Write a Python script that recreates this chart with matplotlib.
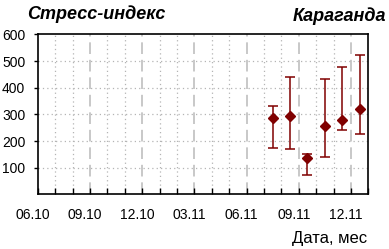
import numpy as np
import matplotlib
matplotlib.use("Agg")
import matplotlib.pyplot as plt
import matplotlib.transforms as mtransforms

plt.rcParams['font.family'] = ['Liberation Sans', 'DejaVu Sans']

# data: month of measurement (mm.yy), mean stress index and its range
months = ["07.11", "08.11", "09.11", "10.11", "11.11", "12.11"]
mean_val = np.array([287, 294, 137, 257, 278, 321])
low_val = np.array([174, 170, 74, 141, 242, 226])
high_val = np.array([330, 441, 150, 433, 478, 523])

tick_labels = ["06.10", "09.10", "12.10", "03.11", "06.11", "09.11", "12.11"]


def month_index(s):
    # months counted from 06.10
    m, y = s.split(".")
    return (int(y) - 10) * 12 + int(m) - 6


x = np.array([month_index(m) for m in months]) + 0.5

fig = plt.figure(figsize=(3.89, 2.49), dpi=100)
ax = fig.add_axes([0.097, 0.219, 0.85, 0.643])

# grid: dotted monthly, dashed quarterly
for i in range(1, 19):
    if i % 3 == 0:
        ax.axvline(i, color='#c8c8c8', lw=1.4, ls=(0, (6, 3)), zorder=0)
    else:
        ax.axvline(i, color='#b4b4b4', lw=0.9, ls=(0, (1, 2.5)), zorder=0)
for v in range(100, 600, 100):
    ax.axhline(v, color='#b4b4b4', lw=0.9, ls=(0, (1, 2.5)), zorder=0)

ax.errorbar(x, mean_val, yerr=[mean_val - low_val, high_val - mean_val],
            fmt='D', color='#800000', ms=5.5, elinewidth=1.1, capsize=3.5,
            capthick=1.1, zorder=3)

ax.set_xlim(0, 19)
ax.set_ylim(0, 600)
ax.set_yticks(range(100, 700, 100))
ax.set_xticks(range(0, 19, 3))
ax.set_xticklabels(tick_labels)
ax.set_xticks(range(0, 20), minor=True)

ax.tick_params(axis='x', which='both', direction='in', length=4, width=1,
               pad=10, labelsize=10)
ax.tick_params(axis='y', direction='out', length=3, width=1, pad=6,
               labelsize=10)

offset = mtransforms.ScaledTranslation(-5 / 100, 0, fig.dpi_scale_trans)
for lbl in ax.get_xticklabels():
    lbl.set_transform(lbl.get_transform() + offset)

for sp in ax.spines.values():
    sp.set_linewidth(1.2)

fig.text(27 / 389, 1 - 19 / 249, "Стресс-индекс", fontsize=13,
         fontweight='bold', fontstyle='italic', ha='left', va='baseline')
fig.text(386 / 389, 1 - 21 / 249, "Караганда", fontsize=13,
         fontweight='bold', fontstyle='italic', ha='right', va='baseline')
fig.text(367 / 389, 1 - 243 / 249, "Дата, мес", fontsize=12,
         ha='right', va='baseline')

fig.savefig("out.png", dpi=100)
